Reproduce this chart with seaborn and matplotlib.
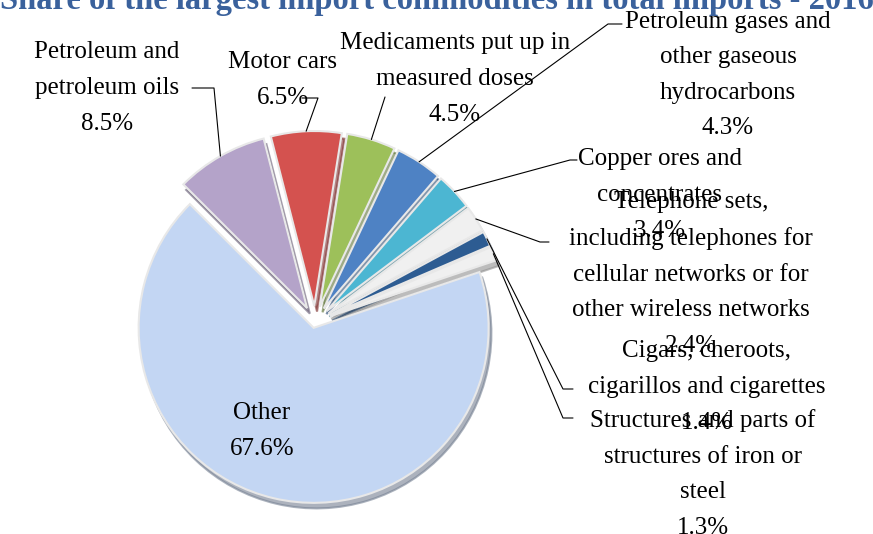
import matplotlib
matplotlib.use("Agg")
import matplotlib.pyplot as plt
import seaborn as sns
import numpy as np

# data
categories = [
    "Petroleum and\npetroleum oils",
    "Motor cars",
    "Medicaments put up in\nmeasured doses",
    "Petroleum gases and\nother gaseous\nhydrocarbons",
    "Copper ores and\nconcentrates",
    "Telephone sets,\nincluding telephones for\ncellular networks or for\nother wireless networks",
    "Cigars, cheroots,\ncigarillos and cigarettes",
    "Structures and parts of\nstructures of iron or\nsteel",
    "Other",
]
shares = [8.5, 6.5, 4.5, 4.3, 3.4, 2.4, 1.4, 1.3, 67.6]
colors = ["#b4a3c9", "#d4524f", "#9dc05a", "#4e82c4", "#4cb6d2",
          "#f0f0f0", "#2d5c92", "#f0f0f0", "#c3d6f3"]
title = "Share of the largest import commodities in total imports - 2016"

W, H = 873, 534
sns.set_theme(style="white")
plt.rcParams["font.family"] = ["Liberation Serif", "DejaVu Serif"]

fig = plt.figure(figsize=(W / 100, H / 100), dpi=100)
ax = fig.add_axes([0, 0, 1, 1])

cx, cy, R = 315, H - 322, 175
explode = [16] * 8 + [6]

wedges, _ = ax.pie(shares, colors=colors, startangle=135, counterclock=False,
                   center=(cx, cy), radius=R, explode=explode,
                   wedgeprops=dict(edgecolor="#e8e8e8", linewidth=1.5),
                   shadow={"ox": 2, "oy": -4, "shade": 0.4, "alpha": 0.6})
ax.set_xlim(0, W)
ax.set_ylim(0, H)
ax.set_aspect("equal")
ax.axis("off")

def py(y):
    return H - y

# label block centres (pixels from top-left) and leader line end points
label_pos = [(107, 88), (283, 80), (455, 79), (728, 75), (660, 195),
             (691, 274), (707, 387), (703, 474), (262, 431)]
leader_end = [[(214, 88), (192, 88)], [(318, 98), (302, 98)], [(385, 97)],
              [(608, 24), (622, 24)], [(570, 160), (577, 160)],
              [(540, 242), (549, 242)], [(563, 389), (573, 389)],
              [(563, 418), (573, 418)], None]

for w, name, val, (lx, ly), ends in zip(wedges, categories, shares, label_pos, leader_end):
    ax.text(lx, py(ly), f"{name}\n{val}%", ha="center", va="center",
            multialignment="center", fontsize=18, linespacing=1.8, color="black")
    if ends is None:
        continue
    mid = np.deg2rad((w.theta1 + w.theta2) / 2)
    ax_x = w.center[0] + w.r * np.cos(mid)
    ax_y = w.center[1] + w.r * np.sin(mid)
    xs = [ax_x] + [e[0] for e in ends]
    ys = [ax_y] + [py(e[1]) for e in ends]
    ax.plot(xs, ys, color="black", lw=0.8)

fig.text(0.5, 1 - 9 / H, title, ha="center", va="baseline", fontsize=23.5,
         fontweight="bold", color="#3a619c")

fig.savefig("out.png", dpi=100)
